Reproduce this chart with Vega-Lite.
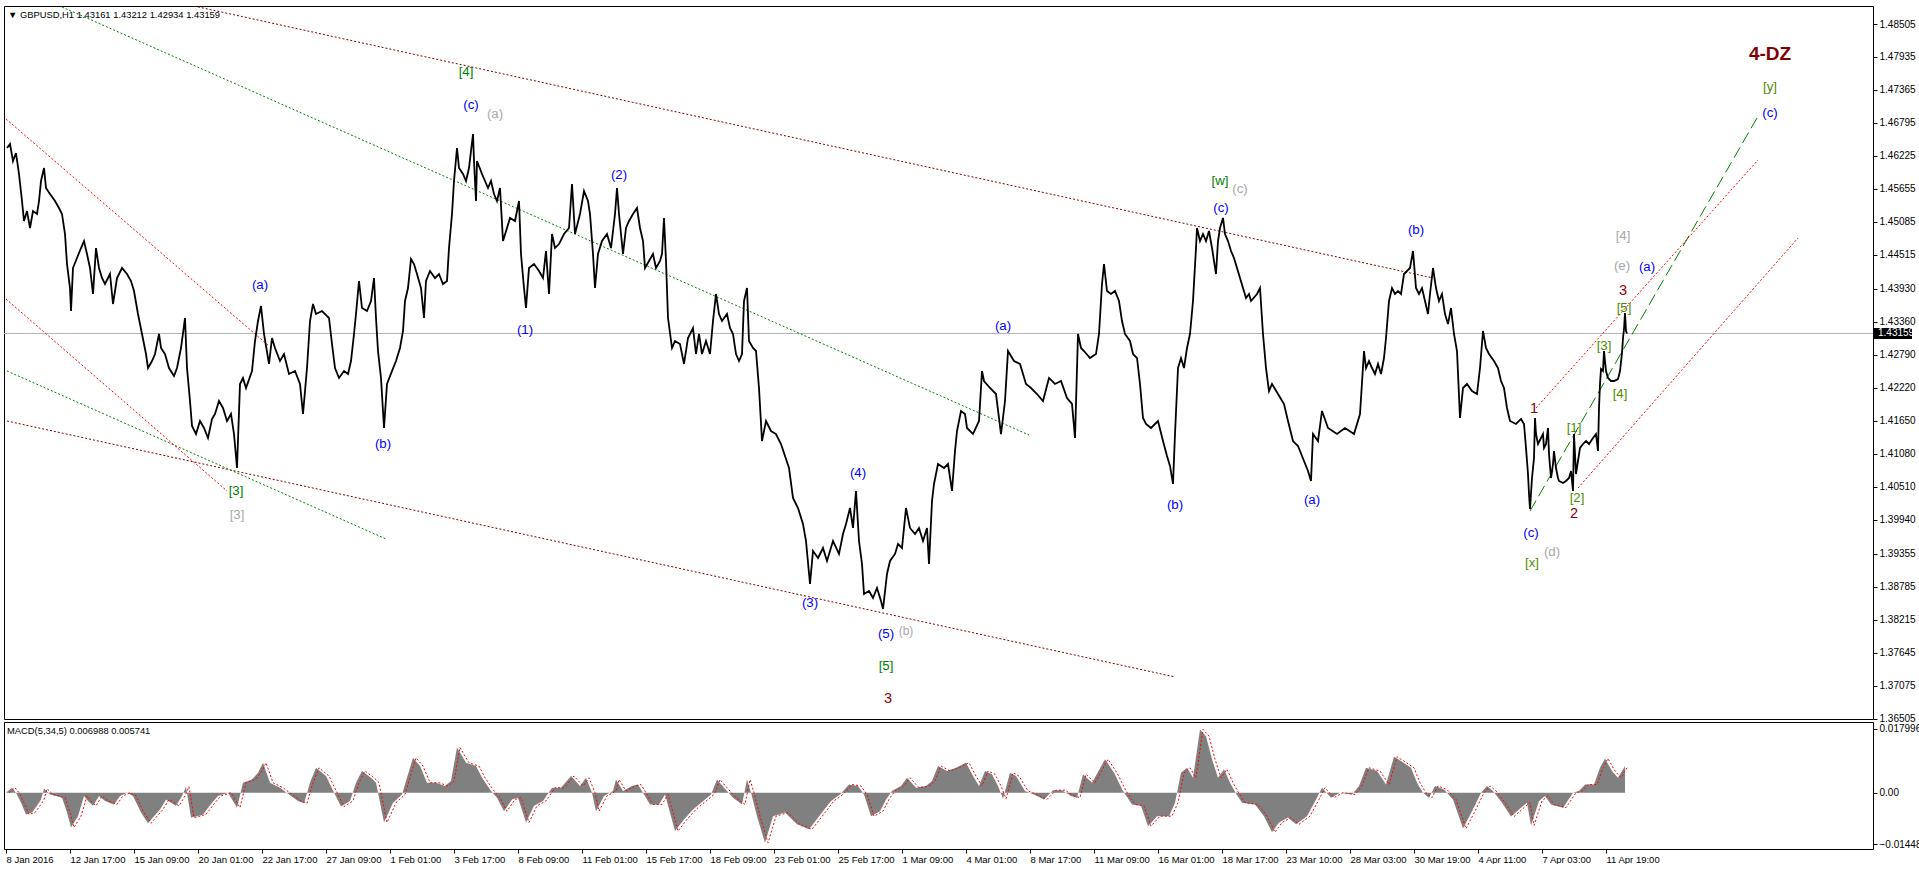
{
"$schema": "https://vega.github.io/schema/vega-lite/v6.json",
"background": "#ffffff",
"padding": {"left": 3, "top": 5, "right": 0, "bottom": 0},
"spacing": 3,
"bounds": "flush",
"config": {"view": {"stroke": "#000000", "strokeWidth": 1}, "font": "Liberation Sans", "axis": {"labelFont": "Liberation Sans", "labelColor": "#000000", "tickColor": "#000000", "grid": false, "domain": false, "labelOverlap": false, "labelFlush": false}},
"datasets": {
"one": [{"k": 1}],
"price": [{"bar":1,"p":1.46363},{"bar":4,"p":1.46432},{"bar":7,"p":1.46138},{"bar":10,"p":1.46276},{"bar":13,"p":1.45914},{"bar":16,"p":1.45447},{"bar":18,"p":1.45102},{"bar":21,"p":1.45274},{"bar":24,"p":1.44981},{"bar":27,"p":1.45274},{"bar":31,"p":1.45223},{"bar":33,"p":1.45447},{"bar":35,"p":1.45793},{"bar":38,"p":1.46017},{"bar":40,"p":1.45672},{"bar":44,"p":1.45568},{"bar":49,"p":1.45447},{"bar":53,"p":1.45326},{"bar":56,"p":1.45223},{"bar":59,"p":1.44877},{"bar":61,"p":1.44359},{"bar":64,"p":1.43944},{"bar":65,"p":1.43547},{"bar":67,"p":1.4429},{"bar":71,"p":1.44463},{"bar":75,"p":1.44635},{"bar":78,"p":1.44756},{"bar":81,"p":1.44532},{"bar":84,"p":1.4429},{"bar":87,"p":1.43841},{"bar":90,"p":1.44635},{"bar":93,"p":1.4429},{"bar":96,"p":1.44117},{"bar":99,"p":1.44014},{"bar":104,"p":1.44186},{"bar":107,"p":1.43668},{"bar":111,"p":1.44117},{"bar":116,"p":1.4429},{"bar":121,"p":1.44186},{"bar":125,"p":1.44065},{"bar":128,"p":1.43893},{"bar":132,"p":1.43495},{"bar":136,"p":1.4315},{"bar":140,"p":1.42804},{"bar":142,"p":1.42562},{"bar":146,"p":1.42683},{"bar":149,"p":1.42804},{"bar":153,"p":1.4315},{"bar":155,"p":1.42908},{"bar":159,"p":1.42804},{"bar":163,"p":1.42562},{"bar":168,"p":1.42424},{"bar":171,"p":1.42562},{"bar":175,"p":1.42908},{"bar":179,"p":1.43426},{"bar":181,"p":1.42562},{"bar":184,"p":1.41992},{"bar":186,"p":1.41561},{"bar":190,"p":1.41422},{"bar":194,"p":1.41647},{"bar":198,"p":1.41526},{"bar":202,"p":1.41353},{"bar":206,"p":1.41682},{"bar":209,"p":1.41768},{"bar":213,"p":1.41992},{"bar":217,"p":1.41872},{"bar":221,"p":1.41647},{"bar":225,"p":1.41768},{"bar":228,"p":1.41422},{"bar":231,"p":1.40835},{"bar":234,"p":1.42286},{"bar":237,"p":1.4239},{"bar":240,"p":1.42217},{"bar":246,"p":1.42511},{"bar":249,"p":1.43029},{"bar":252,"p":1.43374},{"bar":255,"p":1.43633},{"bar":258,"p":1.4315},{"bar":263,"p":1.42632},{"bar":266,"p":1.43081},{"bar":269,"p":1.42908},{"bar":274,"p":1.42683},{"bar":278,"p":1.42804},{"bar":283,"p":1.42459},{"bar":289,"p":1.42511},{"bar":294,"p":1.42286},{"bar":297,"p":1.41768},{"bar":301,"p":1.42562},{"bar":304,"p":1.43374},{"bar":307,"p":1.43668},{"bar":310,"p":1.43495},{"bar":316,"p":1.43547},{"bar":323,"p":1.43426},{"bar":326,"p":1.42977},{"bar":329,"p":1.42562},{"bar":333,"p":1.4239},{"bar":338,"p":1.42511},{"bar":342,"p":1.42459},{"bar":345,"p":1.42683},{"bar":348,"p":1.4315},{"bar":350,"p":1.43495},{"bar":353,"p":1.44065},{"bar":356,"p":1.43599},{"bar":361,"p":1.43547},{"bar":365,"p":1.4372},{"bar":368,"p":1.44117},{"bar":370,"p":1.43426},{"bar":372,"p":1.42856},{"bar":375,"p":1.4239},{"bar":378,"p":1.41526},{"bar":381,"p":1.42286},{"bar":386,"p":1.42511},{"bar":390,"p":1.42683},{"bar":394,"p":1.42908},{"bar":397,"p":1.43202},{"bar":399,"p":1.4372},{"bar":402,"p":1.43944},{"bar":405,"p":1.44445},{"bar":408,"p":1.44359},{"bar":411,"p":1.44186},{"bar":415,"p":1.43944},{"bar":418,"p":1.43426},{"bar":420,"p":1.44065},{"bar":424,"p":1.44238},{"bar":429,"p":1.44117},{"bar":433,"p":1.44186},{"bar":437,"p":1.44014},{"bar":441,"p":1.44065},{"bar":443,"p":1.44635},{"bar":446,"p":1.45223},{"bar":448,"p":1.45793},{"bar":451,"p":1.46363},{"bar":453,"p":1.46017},{"bar":457,"p":1.45914},{"bar":460,"p":1.45793},{"bar":463,"p":1.46017},{"bar":467,"p":1.46605},{"bar":468,"p":1.46138},{"bar":470,"p":1.45447},{"bar":471,"p":1.46138},{"bar":476,"p":1.45914},{"bar":479,"p":1.45793},{"bar":482,"p":1.45672},{"bar":485,"p":1.45793},{"bar":488,"p":1.45568},{"bar":491,"p":1.45447},{"bar":494,"p":1.45672},{"bar":497,"p":1.44756},{"bar":501,"p":1.44981},{"bar":504,"p":1.45154},{"bar":509,"p":1.45102},{"bar":513,"p":1.45447},{"bar":515,"p":1.44532},{"bar":518,"p":1.43944},{"bar":520,"p":1.43599},{"bar":523,"p":1.4429},{"bar":528,"p":1.44359},{"bar":533,"p":1.44238},{"bar":537,"p":1.44117},{"bar":540,"p":1.44584},{"bar":543,"p":1.43841},{"bar":546,"p":1.44877},{"bar":549,"p":1.44635},{"bar":553,"p":1.44704},{"bar":558,"p":1.44877},{"bar":563,"p":1.44981},{"bar":566,"p":1.45741},{"bar":569,"p":1.44877},{"bar":574,"p":1.45223},{"bar":578,"p":1.4562},{"bar":582,"p":1.45447},{"bar":584,"p":1.45223},{"bar":587,"p":1.44532},{"bar":589,"p":1.43944},{"bar":592,"p":1.44532},{"bar":596,"p":1.44756},{"bar":601,"p":1.44877},{"bar":605,"p":1.44635},{"bar":609,"p":1.45223},{"bar":611,"p":1.45672},{"bar":613,"p":1.45223},{"bar":617,"p":1.44532},{"bar":620,"p":1.44981},{"bar":623,"p":1.45102},{"bar":627,"p":1.45223},{"bar":631,"p":1.45326},{"bar":634,"p":1.44981},{"bar":637,"p":1.44756},{"bar":639,"p":1.4429},{"bar":643,"p":1.44411},{"bar":647,"p":1.44532},{"bar":650,"p":1.4429},{"bar":654,"p":1.44411},{"bar":656,"p":1.44532},{"bar":658,"p":1.45154},{"bar":660,"p":1.44411},{"bar":662,"p":1.43426},{"bar":666,"p":1.42908},{"bar":669,"p":1.43029},{"bar":674,"p":1.42977},{"bar":678,"p":1.42632},{"bar":682,"p":1.43081},{"bar":687,"p":1.43253},{"bar":690,"p":1.42804},{"bar":693,"p":1.4315},{"bar":696,"p":1.42804},{"bar":700,"p":1.43029},{"bar":704,"p":1.42804},{"bar":707,"p":1.43374},{"bar":710,"p":1.43841},{"bar":713,"p":1.43495},{"bar":716,"p":1.43374},{"bar":721,"p":1.43495},{"bar":724,"p":1.43253},{"bar":727,"p":1.4315},{"bar":730,"p":1.42804},{"bar":733,"p":1.42683},{"bar":736,"p":1.42804},{"bar":738,"p":1.4372},{"bar":741,"p":1.43944},{"bar":743,"p":1.43029},{"bar":747,"p":1.42908},{"bar":750,"p":1.42856},{"bar":753,"p":1.42217},{"bar":756,"p":1.41301},{"bar":760,"p":1.41647},{"bar":765,"p":1.41474},{"bar":770,"p":1.41422},{"bar":775,"p":1.4125},{"bar":783,"p":1.40835},{"bar":787,"p":1.40317},{"bar":792,"p":1.40144},{"bar":797,"p":1.39868},{"bar":800,"p":1.39574},{"bar":804,"p":1.38831},{"bar":807,"p":1.39401},{"bar":812,"p":1.3928},{"bar":817,"p":1.39453},{"bar":821,"p":1.39229},{"bar":827,"p":1.39574},{"bar":833,"p":1.3935},{"bar":837,"p":1.39695},{"bar":840,"p":1.39868},{"bar":844,"p":1.40144},{"bar":847,"p":1.39799},{"bar":850,"p":1.40438},{"bar":853,"p":1.39574},{"bar":856,"p":1.39177},{"bar":858,"p":1.38659},{"bar":863,"p":1.3871},{"bar":867,"p":1.38589},{"bar":871,"p":1.38762},{"bar":875,"p":1.38538},{"bar":877,"p":1.38399},{"bar":881,"p":1.39004},{"bar":884,"p":1.39229},{"bar":889,"p":1.3935},{"bar":892,"p":1.39522},{"bar":896,"p":1.39453},{"bar":900,"p":1.40144},{"bar":904,"p":1.39799},{"bar":909,"p":1.39695},{"bar":913,"p":1.39799},{"bar":917,"p":1.39574},{"bar":921,"p":1.39799},{"bar":923,"p":1.39177},{"bar":926,"p":1.40265},{"bar":928,"p":1.40559},{"bar":932,"p":1.40904},{"bar":938,"p":1.40835},{"bar":942,"p":1.40904},{"bar":946,"p":1.40438},{"bar":949,"p":1.41129},{"bar":951,"p":1.41474},{"bar":955,"p":1.4182},{"bar":959,"p":1.41768},{"bar":961,"p":1.41526},{"bar":967,"p":1.41422},{"bar":973,"p":1.41647},{"bar":976,"p":1.42511},{"bar":978,"p":1.42338},{"bar":984,"p":1.42217},{"bar":990,"p":1.42113},{"bar":995,"p":1.41422},{"bar":999,"p":1.41992},{"bar":1002,"p":1.42856},{"bar":1008,"p":1.42683},{"bar":1014,"p":1.42632},{"bar":1020,"p":1.42286},{"bar":1025,"p":1.42217},{"bar":1031,"p":1.42113},{"bar":1037,"p":1.41992},{"bar":1043,"p":1.4239},{"bar":1049,"p":1.42286},{"bar":1055,"p":1.42338},{"bar":1061,"p":1.42044},{"bar":1066,"p":1.41941},{"bar":1069,"p":1.41353},{"bar":1072,"p":1.4315},{"bar":1075,"p":1.42908},{"bar":1078,"p":1.42856},{"bar":1084,"p":1.42735},{"bar":1090,"p":1.42804},{"bar":1093,"p":1.4315},{"bar":1096,"p":1.44014},{"bar":1098,"p":1.44359},{"bar":1101,"p":1.43893},{"bar":1105,"p":1.43841},{"bar":1109,"p":1.43893},{"bar":1113,"p":1.4372},{"bar":1116,"p":1.43374},{"bar":1119,"p":1.4315},{"bar":1124,"p":1.43029},{"bar":1127,"p":1.42804},{"bar":1131,"p":1.42735},{"bar":1134,"p":1.42286},{"bar":1137,"p":1.41699},{"bar":1140,"p":1.41595},{"bar":1145,"p":1.41526},{"bar":1152,"p":1.41647},{"bar":1157,"p":1.41301},{"bar":1161,"p":1.41042},{"bar":1164,"p":1.4087},{"bar":1167,"p":1.40559},{"bar":1169,"p":1.41422},{"bar":1172,"p":1.42562},{"bar":1175,"p":1.42735},{"bar":1178,"p":1.42562},{"bar":1181,"p":1.42908},{"bar":1184,"p":1.4315},{"bar":1187,"p":1.4372},{"bar":1190,"p":1.44635},{"bar":1191,"p":1.44981},{"bar":1194,"p":1.44756},{"bar":1197,"p":1.44877},{"bar":1200,"p":1.44756},{"bar":1203,"p":1.44929},{"bar":1206,"p":1.44635},{"bar":1210,"p":1.44186},{"bar":1212,"p":1.44756},{"bar":1214,"p":1.44981},{"bar":1217,"p":1.45154},{"bar":1219,"p":1.44877},{"bar":1222,"p":1.44756},{"bar":1225,"p":1.44584},{"bar":1228,"p":1.44463},{"bar":1231,"p":1.4429},{"bar":1234,"p":1.44117},{"bar":1237,"p":1.43944},{"bar":1240,"p":1.43772},{"bar":1243,"p":1.43841},{"bar":1245,"p":1.4372},{"bar":1251,"p":1.43841},{"bar":1254,"p":1.43944},{"bar":1257,"p":1.4315},{"bar":1260,"p":1.42562},{"bar":1263,"p":1.42165},{"bar":1266,"p":1.42286},{"bar":1272,"p":1.42113},{"bar":1278,"p":1.41941},{"bar":1282,"p":1.41647},{"bar":1287,"p":1.41301},{"bar":1292,"p":1.41215},{"bar":1298,"p":1.40956},{"bar":1302,"p":1.40783},{"bar":1305,"p":1.40611},{"bar":1307,"p":1.41422},{"bar":1312,"p":1.41301},{"bar":1316,"p":1.4182},{"bar":1322,"p":1.41526},{"bar":1331,"p":1.41422},{"bar":1339,"p":1.41526},{"bar":1348,"p":1.41422},{"bar":1354,"p":1.41768},{"bar":1358,"p":1.42856},{"bar":1360,"p":1.42562},{"bar":1363,"p":1.42683},{"bar":1366,"p":1.42562},{"bar":1369,"p":1.42459},{"bar":1372,"p":1.42632},{"bar":1375,"p":1.42459},{"bar":1378,"p":1.42735},{"bar":1380,"p":1.43081},{"bar":1383,"p":1.4372},{"bar":1386,"p":1.43944},{"bar":1389,"p":1.43841},{"bar":1392,"p":1.43893},{"bar":1395,"p":1.43841},{"bar":1398,"p":1.44186},{"bar":1401,"p":1.44238},{"bar":1404,"p":1.4429},{"bar":1407,"p":1.44584},{"bar":1410,"p":1.43944},{"bar":1413,"p":1.43841},{"bar":1416,"p":1.43944},{"bar":1419,"p":1.4372},{"bar":1422,"p":1.43495},{"bar":1424,"p":1.43841},{"bar":1427,"p":1.4429},{"bar":1430,"p":1.43944},{"bar":1433,"p":1.4372},{"bar":1436,"p":1.43841},{"bar":1439,"p":1.43495},{"bar":1442,"p":1.43323},{"bar":1445,"p":1.43599},{"bar":1448,"p":1.4315},{"bar":1451,"p":1.42856},{"bar":1454,"p":1.41699},{"bar":1457,"p":1.42217},{"bar":1461,"p":1.42286},{"bar":1466,"p":1.42165},{"bar":1471,"p":1.42113},{"bar":1474,"p":1.42562},{"bar":1477,"p":1.43202},{"bar":1480,"p":1.42908},{"bar":1483,"p":1.42804},{"bar":1488,"p":1.42683},{"bar":1492,"p":1.42562},{"bar":1495,"p":1.42338},{"bar":1498,"p":1.42217},{"bar":1501,"p":1.41872},{"bar":1504,"p":1.41647},{"bar":1510,"p":1.41595},{"bar":1515,"p":1.41682},{"bar":1518,"p":1.41595},{"bar":1520,"p":1.41181},{"bar":1522,"p":1.40731},{"bar":1523,"p":1.40386},{"bar":1524,"p":1.40127},{"bar":1526,"p":1.40662},{"bar":1528,"p":1.41008},{"bar":1529,"p":1.41699},{"bar":1530,"p":1.41422},{"bar":1532,"p":1.4125},{"bar":1535,"p":1.41353},{"bar":1537,"p":1.41422},{"bar":1538,"p":1.41181},{"bar":1540,"p":1.4125},{"bar":1542,"p":1.41526},{"bar":1543,"p":1.41077},{"bar":1545,"p":1.40662},{"bar":1547,"p":1.40904},{"bar":1548,"p":1.41129},{"bar":1550,"p":1.40835},{"bar":1552,"p":1.40662},{"bar":1553,"p":1.40611},{"bar":1557,"p":1.40576},{"bar":1560,"p":1.40611},{"bar":1563,"p":1.40662},{"bar":1565,"p":1.40783},{"bar":1567,"p":1.40438},{"bar":1568,"p":1.41422},{"bar":1570,"p":1.40731},{"bar":1572,"p":1.40956},{"bar":1574,"p":1.41181},{"bar":1577,"p":1.4125},{"bar":1580,"p":1.41301},{"bar":1583,"p":1.4125},{"bar":1587,"p":1.41353},{"bar":1590,"p":1.41422},{"bar":1592,"p":1.41129},{"bar":1593,"p":1.41872},{"bar":1594,"p":1.42286},{"bar":1595,"p":1.42545},{"bar":1597,"p":1.42511},{"bar":1598,"p":1.42856},{"bar":1600,"p":1.42511},{"bar":1602,"p":1.4239},{"bar":1605,"p":1.42338},{"bar":1608,"p":1.42338},{"bar":1612,"p":1.42372},{"bar":1614,"p":1.42511},{"bar":1616,"p":1.42822},{"bar":1617,"p":1.43081},{"bar":1618,"p":1.43236},{"bar":1619,"p":1.43513},{"bar":1620,"p":1.43202},{"bar":1621,"p":1.43159}],
"macd": [{"bar":0,"m":0},{"bar":6,"m":0.0014},{"bar":10,"m":0},{"bar":15,"m":-0.0028},{"bar":20,"m":-0.0061},{"bar":26,"m":-0.0056},{"bar":31,"m":-0.0037},{"bar":35,"m":-0.0019},{"bar":38,"m":0.0011},{"bar":44,"m":-0.0005},{"bar":50,"m":-0.0009},{"bar":56,"m":-0.0014},{"bar":61,"m":-0.0056},{"bar":65,"m":-0.0098},{"bar":72,"m":-0.0066},{"bar":78,"m":-0.0009},{"bar":82,"m":-0.0023},{"bar":87,"m":-0.0037},{"bar":93,"m":-0.0009},{"bar":99,"m":-0.0023},{"bar":108,"m":-0.0033},{"bar":114,"m":-0.0009},{"bar":121,"m":0},{"bar":127,"m":-0.0009},{"bar":135,"m":-0.0056},{"bar":142,"m":-0.0086},{"bar":148,"m":-0.0066},{"bar":154,"m":-0.0047},{"bar":160,"m":-0.0019},{"bar":170,"m":-0.0037},{"bar":176,"m":-0.0009},{"bar":180,"m":0.0017},{"bar":185,"m":-0.007},{"bar":191,"m":-0.0066},{"bar":197,"m":-0.0061},{"bar":206,"m":-0.0028},{"bar":212,"m":-0.0009},{"bar":222,"m":0},{"bar":231,"m":-0.0042},{"bar":237,"m":0.0028},{"bar":246,"m":0.0037},{"bar":252,"m":0.0056},{"bar":257,"m":0.0084},{"bar":264,"m":0.0028},{"bar":274,"m":0.0014},{"bar":283,"m":-0.0005},{"bar":292,"m":-0.0023},{"bar":298,"m":-0.003},{"bar":304,"m":0.0028},{"bar":310,"m":0.007},{"bar":320,"m":0.0047},{"bar":329,"m":-0.0005},{"bar":335,"m":-0.0039},{"bar":344,"m":-0.0023},{"bar":350,"m":0.0028},{"bar":356,"m":0.0061},{"bar":365,"m":0.0042},{"bar":370,"m":0.0028},{"bar":378,"m":-0.0084},{"bar":387,"m":-0.0028},{"bar":396,"m":-0.0005},{"bar":402,"m":0.0052},{"bar":407,"m":0.0098},{"bar":414,"m":0.0075},{"bar":421,"m":0.0028},{"bar":430,"m":0.0028},{"bar":439,"m":0.0019},{"bar":445,"m":0.0033},{"bar":451,"m":0.0127},{"bar":460,"m":0.0084},{"bar":470,"m":0.0075},{"bar":476,"m":0.0042},{"bar":485,"m":0.0005},{"bar":491,"m":-0.0014},{"bar":498,"m":-0.0052},{"bar":506,"m":-0.0019},{"bar":512,"m":-0.0014},{"bar":520,"m":-0.0084},{"bar":528,"m":-0.0037},{"bar":537,"m":-0.0023},{"bar":546,"m":0.0014},{"bar":555,"m":0.0014},{"bar":565,"m":0.0047},{"bar":574,"m":0.0019},{"bar":580,"m":0.0042},{"bar":586,"m":0},{"bar":590,"m":-0.0052},{"bar":598,"m":-0.0009},{"bar":607,"m":0.0005},{"bar":610,"m":0.0037},{"bar":617,"m":0.0005},{"bar":626,"m":0.0019},{"bar":632,"m":0.0023},{"bar":638,"m":-0.0005},{"bar":644,"m":-0.0033},{"bar":653,"m":-0.0033},{"bar":659,"m":-0.0005},{"bar":669,"m":-0.0108},{"bar":678,"m":-0.0075},{"bar":687,"m":-0.0047},{"bar":699,"m":-0.0019},{"bar":705,"m":-0.0005},{"bar":711,"m":0.0037},{"bar":718,"m":0.0014},{"bar":727,"m":-0.0014},{"bar":736,"m":-0.0033},{"bar":741,"m":0.0037},{"bar":745,"m":0},{"bar":751,"m":-0.0066},{"bar":759,"m":-0.0141},{"bar":767,"m":-0.0066},{"bar":779,"m":-0.0056},{"bar":791,"m":-0.0089},{"bar":803,"m":-0.0103},{"bar":816,"m":-0.0056},{"bar":825,"m":-0.0023},{"bar":834,"m":-0.0005},{"bar":843,"m":0.0023},{"bar":852,"m":0.0019},{"bar":858,"m":-0.0005},{"bar":865,"m":-0.0066},{"bar":874,"m":-0.0052},{"bar":880,"m":-0.0019},{"bar":886,"m":0.0005},{"bar":895,"m":0.0019},{"bar":901,"m":0.0042},{"bar":910,"m":0.0014},{"bar":920,"m":0.0019},{"bar":926,"m":0.0033},{"bar":932,"m":0.0075},{"bar":941,"m":0.0061},{"bar":950,"m":0.007},{"bar":960,"m":0.0084},{"bar":967,"m":0.0047},{"bar":973,"m":0.0019},{"bar":979,"m":0.0061},{"bar":986,"m":0.0052},{"bar":992,"m":0.0019},{"bar":997,"m":-0.0017},{"bar":1004,"m":0.0056},{"bar":1010,"m":0.0047},{"bar":1019,"m":0.0005},{"bar":1028,"m":-0.0005},{"bar":1038,"m":-0.0019},{"bar":1047,"m":0.0007},{"bar":1056,"m":0.0007},{"bar":1065,"m":-0.0009},{"bar":1071,"m":-0.0014},{"bar":1077,"m":0.0052},{"bar":1086,"m":0.0028},{"bar":1099,"m":0.0094},{"bar":1108,"m":0.0056},{"bar":1117,"m":0.0005},{"bar":1126,"m":-0.0033},{"bar":1135,"m":-0.0037},{"bar":1142,"m":-0.0094},{"bar":1151,"m":-0.0066},{"bar":1163,"m":-0.0066},{"bar":1169,"m":-0.0028},{"bar":1175,"m":0.0056},{"bar":1181,"m":0.007},{"bar":1187,"m":0.0042},{"bar":1194,"m":0.0178},{"bar":1200,"m":0.0159},{"bar":1206,"m":0.0094},{"bar":1212,"m":0.0042},{"bar":1218,"m":0.0066},{"bar":1224,"m":0.0028},{"bar":1230,"m":-0.0002},{"bar":1236,"m":-0.0028},{"bar":1249,"m":-0.0033},{"bar":1258,"m":-0.0066},{"bar":1266,"m":-0.0111},{"bar":1273,"m":-0.0084},{"bar":1282,"m":-0.007},{"bar":1290,"m":-0.0089},{"bar":1301,"m":-0.0066},{"bar":1310,"m":-0.0019},{"bar":1316,"m":0.0014},{"bar":1325,"m":-0.0014},{"bar":1334,"m":0},{"bar":1346,"m":-0.0005},{"bar":1353,"m":0.0019},{"bar":1360,"m":0.007},{"bar":1371,"m":0.0061},{"bar":1380,"m":0.0023},{"bar":1388,"m":0.0101},{"bar":1395,"m":0.0089},{"bar":1405,"m":0.007},{"bar":1411,"m":0.0028},{"bar":1417,"m":0},{"bar":1423,"m":-0.0014},{"bar":1429,"m":0.0019},{"bar":1438,"m":0.0009},{"bar":1447,"m":-0.0019},{"bar":1457,"m":-0.0101},{"bar":1466,"m":-0.0052},{"bar":1475,"m":0},{"bar":1481,"m":0.0019},{"bar":1487,"m":0.0005},{"bar":1496,"m":-0.0028},{"bar":1505,"m":-0.0067},{"bar":1515,"m":-0.0042},{"bar":1521,"m":-0.0028},{"bar":1525,"m":-0.0092},{"bar":1533,"m":-0.0023},{"bar":1539,"m":-0.0009},{"bar":1545,"m":-0.0033},{"bar":1557,"m":-0.0042},{"bar":1567,"m":0},{"bar":1573,"m":0.0005},{"bar":1579,"m":0.0023},{"bar":1588,"m":0.0023},{"bar":1594,"m":0.007},{"bar":1599,"m":0.0096},{"bar":1606,"m":0.0061},{"bar":1612,"m":0.0042},{"bar":1619,"m":0.0075}],
"segs": [{"k":"maroon","bar":188,"p":1.48816,"bar2":1427,"p2":1.44117},{"k":"maroon","bar":1,"p":1.41647,"bar2":1169,"p2":1.37225},{"k":"green","bar":56,"p":1.48798,"bar2":1023,"p2":1.41405},{"k":"green","bar":1,"p":1.42511,"bar2":380,"p2":1.39609},{"k":"red","bar":0,"p":1.46864,"bar2":263,"p2":1.42943},{"k":"red","bar":0,"p":1.43754,"bar2":221,"p2":1.40438},{"k":"gdash","bar":1524,"p":1.40092,"bar2":1751,"p2":1.46881},{"k":"red","bar":1530,"p":1.41872,"bar2":1752,"p2":1.46155},{"k":"red","bar":1572,"p":1.4049,"bar2":1792,"p2":1.44808}],
"labels": [{"t":"[4]","bar":460,"p":1.47676,"g":"green","s":"md"},{"t":"(c)","bar":465,"p":1.47105,"g":"blue","s":"md"},{"t":"(a)","bar":489,"p":1.4695,"g":"gray","s":"md"},{"t":"(a)","bar":254,"p":1.43996,"g":"blue","s":"md"},{"t":"(2)","bar":613,"p":1.45896,"g":"blue","s":"md"},{"t":"(1)","bar":519,"p":1.43219,"g":"blue","s":"md"},{"t":"(b)","bar":377,"p":1.4125,"g":"blue","s":"md"},{"t":"[3]","bar":230,"p":1.40438,"g":"green","s":"md"},{"t":"[3]","bar":231,"p":1.40023,"g":"gray","s":"md"},{"t":"(a)","bar":997,"p":1.43295,"g":"blue","s":"md"},{"t":"(4)","bar":852,"p":1.40749,"g":"blue","s":"md"},{"t":"(3)","bar":804,"p":1.38503,"g":"blue","s":"md"},{"t":"(5)","bar":880,"p":1.37968,"g":"blue","s":"md"},{"t":"(b)","bar":900,"p":1.38019,"g":"gray","s":"sm"},{"t":"[5]","bar":880,"p":1.37415,"g":"green","s":"md"},{"t":"3","bar":882,"p":1.36845,"g":"maroon","s":"lg"},{"t":"[w]","bar":1214,"p":1.45793,"g":"green","s":"md"},{"t":"(c)","bar":1234,"p":1.45655,"g":"gray","s":"md"},{"t":"(c)","bar":1215,"p":1.45326,"g":"blue","s":"md"},{"t":"(b)","bar":1169,"p":1.40196,"g":"blue","s":"md"},{"t":"(b)","bar":1410,"p":1.44946,"g":"blue","s":"md"},{"t":"(a)","bar":1306,"p":1.40282,"g":"blue","s":"md"},{"t":"4-DZ","bar":1764,"p":1.47986,"g":"maroon","s":"xl"},{"t":"[y]","bar":1764,"p":1.47416,"g":"olive","s":"md"},{"t":"(c)","bar":1764,"p":1.46967,"g":"blue","s":"md"},{"t":"[4]","bar":1617,"p":1.44843,"g":"gray","s":"md"},{"t":"(e)","bar":1616,"p":1.44324,"g":"gray","s":"md"},{"t":"(a)","bar":1641,"p":1.44307,"g":"blue","s":"md"},{"t":"3","bar":1617,"p":1.43893,"g":"maroon","s":"lg"},{"t":"[5]","bar":1618,"p":1.43599,"g":"olive","s":"md"},{"t":"[3]","bar":1598,"p":1.42943,"g":"olive","s":"md"},{"t":"[4]","bar":1614,"p":1.42113,"g":"olive","s":"md"},{"t":"1","bar":1528,"p":1.41854,"g":"maroon","s":"lg"},{"t":"[1]","bar":1568,"p":1.41526,"g":"olive","s":"md"},{"t":"[2]","bar":1571,"p":1.40317,"g":"olive","s":"md"},{"t":"2","bar":1568,"p":1.4004,"g":"maroon","s":"lg"},{"t":"(c)","bar":1525,"p":1.39712,"g":"blue","s":"md"},{"t":"[x]","bar":1526,"p":1.39194,"g":"olive","s":"md"},{"t":"(d)","bar":1546,"p":1.39384,"g":"gray","s":"md"}]
},
"vconcat": [
{
"width": 1869,
"height": 713,
"resolve": {"scale": {"color": "independent", "strokeDash": "independent", "size": "independent"}},
"layer": [
{
"data": {"name": "one"},
"mark": {"type": "rule", "color": "#b4b4b4", "strokeWidth": 1},
"encoding": {"y": {"datum": 1.43159, "type": "quantitative", "scale": {"domain": [1.36499, 1.48816], "nice": false, "zero": false},
"axis": {"orient": "right", "title": null, "values": [1.48505, 1.47935, 1.47365, 1.46795, 1.46225, 1.45655, 1.45085, 1.44515, 1.4393, 1.4336, 1.4279, 1.4222, 1.4165, 1.4108, 1.4051, 1.3994, 1.39355, 1.38785, 1.38215, 1.37645, 1.37075, 1.36505], "tickCount": 50, "format": ".5f", "tickSize": 4, "labelPadding": 2, "labelFontSize": 10, "labelFont": "Liberation Sans", "labelOverlap": false, "labelFlush": false, "labelBound": false}}}
},
{
"data": {"name": "segs"},
"mark": {"type": "rule", "strokeWidth": 1, "clip": true},
"encoding": {
"x": {"field": "bar", "type": "quantitative", "scale": {"domain": [-2, 1867], "nice": false, "zero": false}, "axis": null},
"y": {"field": "p", "type": "quantitative", "scale": {"domain": [1.36499, 1.48816], "nice": false, "zero": false}},
"x2": {"field": "bar2"},
"y2": {"field": "p2"},
"color": {"field": "k", "type": "nominal", "scale": {"domain": ["maroon", "red", "green", "gdash"], "range": ["#800000", "#ff0000", "#008000", "#008000"]}, "legend": null},
"strokeDash": {"field": "k", "type": "nominal", "scale": {"domain": ["maroon", "red", "green", "gdash"], "range": [[2, 2], [2, 2], [2, 2], [12, 5]]}, "legend": null}
}
},
{
"data": {"name": "price"},
"mark": {"type": "line", "color": "#000000", "strokeWidth": 1.8, "clip": true},
"encoding": {
"x": {"field": "bar", "type": "quantitative", "scale": {"domain": [-2, 1867], "nice": false, "zero": false}, "axis": null},
"y": {"field": "p", "type": "quantitative", "scale": {"domain": [1.36499, 1.48816], "nice": false, "zero": false},
"axis": {"orient": "right", "title": null, "values": [1.48505, 1.47935, 1.47365, 1.46795, 1.46225, 1.45655, 1.45085, 1.44515, 1.4393, 1.4336, 1.4279, 1.4222, 1.4165, 1.4108, 1.4051, 1.3994, 1.39355, 1.38785, 1.38215, 1.37645, 1.37075, 1.36505], "tickCount": 50, "format": ".5f", "tickSize": 4, "labelPadding": 2, "labelFontSize": 10, "labelFont": "Liberation Sans", "labelOverlap": false, "labelFlush": false, "labelBound": false}}
}
},
{
"data": {"name": "labels"},
"transform": [{"filter": "datum.s != 'xl'"}],
"mark": {"type": "text", "align": "center", "baseline": "middle", "font": "Liberation Sans"},
"encoding": {
"x": {"field": "bar", "type": "quantitative", "scale": {"domain": [-2, 1867], "nice": false, "zero": false}, "axis": null},
"y": {"field": "p", "type": "quantitative", "scale": {"domain": [1.36499, 1.48816], "nice": false, "zero": false}},
"text": {"field": "t"},
"color": {"field": "g", "type": "nominal", "scale": {"domain": ["blue", "gray", "green", "olive", "maroon"], "range": ["#0000ff", "#a8a8a8", "#008000", "#4f8a00", "#8b0000"]}, "legend": null},
"size": {"field": "s", "type": "nominal", "scale": {"domain": ["sm", "md", "lg"], "range": [12, 14.5, 17]}, "legend": null}
}
},
{
"data": {"name": "labels"},
"transform": [{"filter": "datum.s == 'xl'"}],
"mark": {"type": "text", "align": "center", "baseline": "middle", "font": "Liberation Sans", "fontWeight": "bold", "fontSize": 19, "color": "#800000"},
"encoding": {
"x": {"field": "bar", "type": "quantitative", "scale": {"domain": [-2, 1867], "nice": false, "zero": false}, "axis": null},
"y": {"field": "p", "type": "quantitative", "scale": {"domain": [1.36499, 1.48816], "nice": false, "zero": false}},
"text": {"field": "t"}
}
},
{
"data": {"name": "one"},
"mark": {"type": "text", "align": "left", "baseline": "middle", "font": "Liberation Sans", "fontSize": 9.4, "color": "#000000", "text": "▼ GBPUSD,H1 1.43161 1.43212 1.42934 1.43159"},
"encoding": {
"x": {"datum": 2, "type": "quantitative"},
"y": {"datum": 1.4866, "type": "quantitative"}
}
},
{
"data": {"name": "one"},
"mark": {"type": "rule", "color": "#000000", "strokeWidth": 11, "strokeCap": "butt", "xOffset": 1, "x2Offset": 39},
"encoding": {
"x": {"datum": 1867, "type": "quantitative"},
"x2": {"datum": 1867},
"y": {"datum": 1.43159, "type": "quantitative"}
}
},
{
"data": {"name": "one"},
"mark": {"type": "text", "align": "left", "baseline": "middle", "font": "Liberation Sans", "fontSize": 10, "color": "#ffffff", "dx": 5, "text": "1.43159"},
"encoding": {
"x": {"datum": 1867, "type": "quantitative"},
"y": {"datum": 1.43159, "type": "quantitative"}
}
}
]
},
{
"width": 1869,
"height": 127,
"layer": [
{
"data": {"name": "macd"},
"mark": {"type": "area", "color": "#808080", "opacity": 1, "clip": true},
"encoding": {
"x": {"field": "bar", "type": "quantitative", "scale": {"domain": [-2, 1867], "nice": false, "zero": false},
"axis": {"title": null, "values": [0, 64, 128, 192, 256, 320, 384, 448, 512, 576, 640, 704, 768, 832, 896, 960, 1024, 1088, 1152, 1216, 1280, 1344, 1408, 1472, 1536, 1600], "tickCount": 60, "labelExpr": "['8 Jan 2016','12 Jan 17:00','15 Jan 09:00','20 Jan 01:00','22 Jan 17:00','27 Jan 09:00','1 Feb 01:00','3 Feb 17:00','8 Feb 09:00','11 Feb 01:00','15 Feb 17:00','18 Feb 09:00','23 Feb 01:00','25 Feb 17:00','1 Mar 09:00','4 Mar 01:00','8 Mar 17:00','11 Mar 09:00','16 Mar 01:00','18 Mar 17:00','23 Mar 10:00','28 Mar 03:00','30 Mar 19:00','4 Apr 11:00','7 Apr 03:00','11 Apr 19:00'][round(datum.value/64)]", "labelAlign": "left", "labelBaseline": "top", "tickSize": 4, "labelPadding": 1, "labelFontSize": 9.5, "labelFont": "Liberation Sans", "labelFlush": false, "labelOverlap": false}},
"y": {"field": "m", "type": "quantitative", "scale": {"domain": [-0.01583, 0.01988], "nice": false, "zero": false},
"axis": {"orient": "right", "title": null, "values": [0.017996, 0, -0.014482], "tickCount": 10, "labelExpr": "datum.value == 0 ? '0.00' : format(datum.value, '.6f')", "tickSize": 4, "labelPadding": 2, "labelFontSize": 10, "labelFont": "Liberation Sans", "labelOverlap": false, "labelFlush": false}},
"y2": {"datum": 0}
}
},
{
"data": {"name": "macd"},
"mark": {"type": "line", "color": "#ff0000", "strokeWidth": 1, "strokeDash": [2, 2], "xOffset": 3, "clip": true},
"encoding": {
"x": {"field": "bar", "type": "quantitative", "scale": {"domain": [-2, 1867], "nice": false, "zero": false}},
"y": {"field": "m", "type": "quantitative", "scale": {"domain": [-0.01583, 0.01988], "nice": false, "zero": false}}
}
},
{
"data": {"name": "one"},
"mark": {"type": "text", "align": "left", "baseline": "middle", "font": "Liberation Sans", "fontSize": 9.4, "color": "#000000", "text": "MACD(5,34,5) 0.006988 0.005741"},
"encoding": {
"x": {"datum": 1, "type": "quantitative"},
"y": {"datum": 0.01735, "type": "quantitative"}
}
}
]
}
]
}
